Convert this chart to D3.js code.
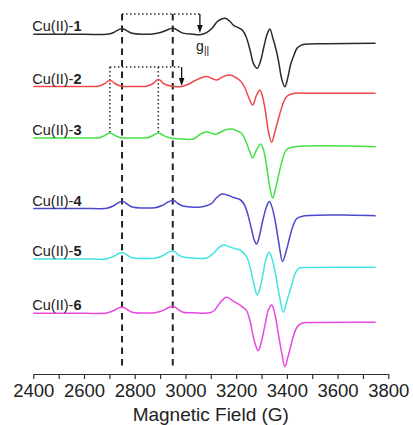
<!DOCTYPE html>
<html><head><meta charset="utf-8">
<script src="https://cdn.jsdelivr.net/npm/d3@7"></script>
<style>
html,body{margin:0;padding:0;background:#fff;}
svg{display:block;font-family:"Liberation Sans",Arial,Helvetica,sans-serif;}
</style></head>
<body>
<svg id="chart" width="413" height="425"></svg>
<script>
// ---- data ----
const sampleNames = ["Cu(II)-", "Cu(II)-", "Cu(II)-", "Cu(II)-", "Cu(II)-", "Cu(II)-"];
const sampleNumbers = ["1", "2", "3", "4", "5", "6"];
const colors = ["#2a2a2a", "#f04848", "#44e044", "#4c48cc", "#44e4e4", "#e848e0"];
const offsets = [339.7, 287.5, 236, 165.5, 115, 60.7];
const xTicks = [2400, 2500, 2600, 2700, 2800, 2900, 3000, 3100, 3200, 3300, 3400, 3500, 3600, 3700, 3800];
const xTickLabels = [2400, 2600, 2800, 3000, 3200, 3400, 3600, 3800];
const xTitle = "Magnetic Field (G)";

const spec1 = [[2400,0],[2600,0],[2690,0],[2715,1.5],[2732,4],[2742,5.2],[2750,5.5],[2758,5.1],[2770,3.5],[2790,1],[2830,0],[2870,0.3],[2905,2],[2930,4.5],[2942,5.7],[2950,6],[2958,5.6],[2970,3.8],[2990,1.2],[3030,0],[3057,-0.5],[3085,2],[3105,6],[3125,12.5],[3145,15.5],[3158,16],[3175,13],[3190,9],[3210,6.5],[3225,4],[3240,-3],[3255,-16],[3268,-29],[3283,-34],[3296,-27],[3308,-14],[3322,0],[3333,5.3],[3345,-4],[3358,-16],[3368,-28],[3380,-45],[3392,-52.5],[3404,-43],[3415,-30],[3425,-23],[3440,-14],[3455,-11],[3470,-10],[3550,-9.5],[3750,-9]];
const spec2 = [[2400,0],[2600,0],[2660,0.5],[2682,3],[2695,5.3],[2702,6],[2710,5.3],[2722,3],[2745,0.5],[2800,0],[2850,0.5],[2872,3],[2886,6.2],[2893,7],[2901,6.2],[2914,3],[2940,0.5],[2985,0],[3010,2],[3035,5.5],[3060,8.5],[3084,10],[3105,8],[3123,6.5],[3150,10],[3176,11.5],[3198,9],[3215,6],[3232,0],[3248,-10],[3265,-18.5],[3280,-9],[3294,-3.5],[3304,-10],[3315,-24],[3328,-46],[3340,-56],[3352,-46],[3366,-33],[3385,-17],[3399,-10],[3425,-7],[3500,-6.8],[3750,-6.8]];
const spec3 = [[2400,0],[2600,0],[2660,0.3],[2682,2.5],[2695,4.4],[2702,5],[2710,4.4],[2722,2.5],[2745,0.3],[2800,0],[2850,0.3],[2872,2.5],[2886,4.4],[2893,5],[2901,4.4],[2914,2.5],[2940,0],[2990,-1],[3031,-1],[3060,4],[3084,6.3],[3105,4.5],[3123,4],[3155,8],[3183,9],[3205,7],[3222,4.5],[3238,-3],[3255,-15],[3265,-20],[3280,-12],[3297,-6],[3308,-12],[3320,-28],[3333,-50],[3344,-60],[3356,-50],[3372,-32],[3388,-17],[3399,-11.5],[3432,-8.7],[3750,-8.7]];
const spec4 = [[2400,0],[2600,0],[2690,0.3],[2715,2.5],[2732,5.3],[2742,6.6],[2750,7],[2758,6.6],[2770,4.5],[2790,1.5],[2830,0.5],[2880,0.8],[2908,3],[2930,6.3],[2942,7.6],[2950,8],[2958,7.5],[2970,5],[2990,2.5],[3020,1.5],[3060,1.5],[3085,3],[3103,5],[3120,10],[3143,14.5],[3165,13.5],[3190,11],[3215,9],[3232,4],[3245,-5],[3260,-20],[3272,-32],[3281,-35.5],[3293,-26],[3305,-12],[3320,2],[3331,7],[3343,0],[3355,-14],[3368,-34],[3383,-53],[3397,-43],[3412,-28],[3425,-17],[3439,-10],[3465,-7.5],[3750,-7.2]];
const spec5 = [[2400,0],[2600,0],[2690,0.3],[2715,2.5],[2732,4.8],[2742,6],[2750,6.3],[2758,5.9],[2770,4],[2790,1.2],[2830,0.5],[2880,0.8],[2908,3],[2930,6.3],[2942,7.6],[2950,8],[2958,7.4],[2970,4.6],[2990,2],[3030,1],[3084,1],[3110,5.7],[3130,11],[3149,14],[3175,12],[3200,10],[3215,9],[3241,2.3],[3255,-8],[3270,-25],[3283,-36],[3295,-28],[3308,-12],[3320,2],[3331,6.7],[3343,-1],[3355,-15],[3370,-36],[3386,-53.3],[3400,-42],[3419,-26],[3432,-15],[3446,-9.3],[3480,-8.5],[3750,-8.3]];
const spec6 = [[2400,0],[2600,0],[2690,0.3],[2715,2.5],[2732,4.8],[2742,5.7],[2750,6],[2758,5.6],[2770,3.8],[2790,1],[2830,0.3],[2880,0.5],[2908,2.5],[2930,5.3],[2942,6.6],[2950,7],[2958,6.5],[2970,4],[2990,1],[3030,0.5],[3097,0.6],[3115,3],[3135,10],[3162,16],[3190,12],[3215,8.3],[3241,2.6],[3255,-8],[3272,-28],[3287,-37.4],[3300,-28],[3315,-10],[3328,4],[3340,8.3],[3352,0],[3366,-20],[3380,-40],[3392,-53.4],[3405,-43],[3425,-23.4],[3440,-14],[3458,-10],[3500,-9.3],[3750,-9]];
const spectra = [spec1, spec2, spec3, spec4, spec5, spec6];

// guide lines (field positions, G)
const gParallelLines = [2750, 2950];        // dashed
const redDottedLines = [2702, 2893];        // dotted
const arrowFields = [3057, 2985];           // g|| arrows (Cu1, Cu2)

// ---- drawing ----
const svg = d3.select("#chart");
const x = d3.scaleLinear().domain([2400, 3800]).range([33.3, 388.3]);
const y = d3.scaleLinear().domain([0, 360]).range([374, 14]);

const line = d3.line().x(d => x(d[0])).y(d => y(d[1])).curve(d3.curveCatmullRom.alpha(0.5));

// dashed vertical guides
svg.selectAll(".dash").data(gParallelLines).join("line")
  .attr("x1", d => x(d)).attr("x2", d => x(d))
  .attr("y1", y(360)).attr("y2", y(4))
  .attr("stroke", "#222").attr("stroke-width", 2).attr("stroke-dasharray", "6.5,5");

// top dotted line for Cu-1
svg.append("line").attr("x1", x(gParallelLines[0])).attr("x2", x(arrowFields[0]))
  .attr("y1", y(360)).attr("y2", y(360))
  .attr("stroke", "#2a2a2a").attr("stroke-width", 1.5).attr("stroke-dasharray", "1.5,2.5");
// dotted for Cu-2
svg.append("line").attr("x1", x(redDottedLines[0])).attr("x2", x(arrowFields[1]))
  .attr("y1", y(307)).attr("y2", y(307))
  .attr("stroke", "#2a2a2a").attr("stroke-width", 1.5).attr("stroke-dasharray", "1.5,2.5");
svg.selectAll(".dot").data(redDottedLines).join("line")
  .attr("x1", d => x(d)).attr("x2", d => x(d))
  .attr("y1", y(307)).attr("y2", y(241))
  .attr("stroke", "#2a2a2a").attr("stroke-width", 1.5).attr("stroke-dasharray", "1.5,2.5");

// arrows
function arrow(g, top, tip) {
  const xx = x(g), y0 = y(top), y1 = y(tip);
  svg.append("line").attr("x1", xx).attr("x2", xx).attr("y1", y0).attr("y2", y1 - 6)
    .attr("stroke", "#111").attr("stroke-width", 1.3);
  svg.append("path").attr("d", `M${xx-2.8},${y1-8}L${xx+2.8},${y1-8}L${xx},${y1}Z`).attr("fill", "#111");
}
arrow(arrowFields[0], 360, 341);
arrow(arrowFields[1], 307, 288);

// g|| label
const gl = svg.append("text").attr("x", x(3042)).attr("y", y(323)).attr("font-size", 14).attr("fill", "#222");
gl.append("tspan").text("g");
gl.append("tspan").attr("font-size", 10).attr("dy", 3).text("||");

// spectra
spectra.forEach((s, i) => {
  svg.append("path")
    .datum(s.map(p => [p[0], p[1] + offsets[i]]))
    .attr("d", line).attr("fill", "none")
    .attr("stroke", colors[i]).attr("stroke-width", 1.5).attr("stroke-linejoin", "round");
  const t = svg.append("text").attr("x", x(2400) - 1).attr("y", y(offsets[i] + 3))
    .attr("font-size", 14.5).attr("fill", "#222");
  t.append("tspan").text(sampleNames[i]);
  t.append("tspan").attr("font-weight", "bold").text(sampleNumbers[i]);
});

// x axis
const axis = d3.axisBottom(x).tickValues(xTicks).tickSize(5).tickSizeOuter(0)
  .tickFormat(d => xTickLabels.includes(d) ? d : "");
const ax = svg.append("g").attr("transform", `translate(0,${y(0)})`).call(axis);
ax.select(".domain").attr("stroke", "#333").attr("stroke-width", 1.2);
ax.selectAll(".tick line").attr("stroke", "#333").attr("stroke-width", 1.2);
ax.selectAll(".tick text").attr("font-size", 18.5).attr("font-family", '"Liberation Sans",Arial,sans-serif')
  .attr("fill", "#222").attr("dy", 0).attr("y", 23);

svg.append("text").attr("x", x(3100)).attr("y", 421).attr("text-anchor", "middle")
  .attr("font-size", 19).attr("fill", "#222").text(xTitle);
</script>
</body></html>
